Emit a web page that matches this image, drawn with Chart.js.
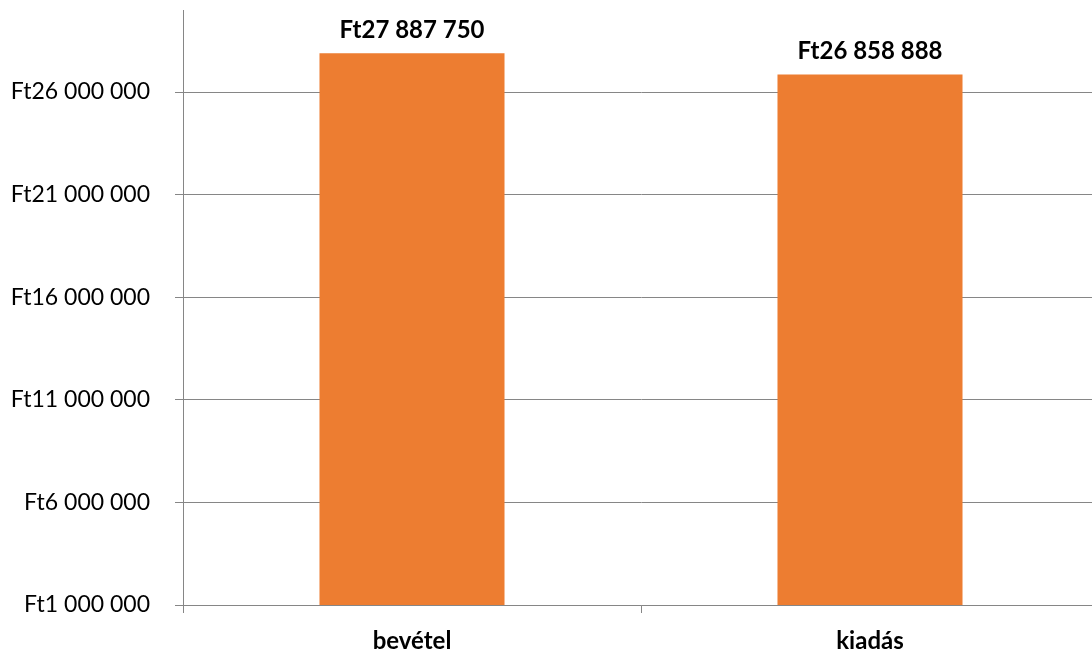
<!DOCTYPE html>
<html>
<head>
<meta charset="utf-8">
<script src="https://cdn.jsdelivr.net/npm/chart.js@4"></script>
<style>
  html, body { margin: 0; padding: 0; background: #fff; overflow: hidden; }
  /* plot area runs a few px past the right edge, as in the original */
  #wrap { width: 1099px; height: 652px; }
</style>
</head>
<body>
<div id="wrap"><canvas id="myChart"></canvas></div>
<script>
// data
const categories = ['bevétel', 'kiadás'];
const amounts = [27887750, 26858888];
const yTicks = [1000000, 6000000, 11000000, 16000000, 21000000, 26000000];
const yMin = 1000000;
const yMax = 30000000;

function ft(v) {
  return 'Ft' + String(v).replace(/\B(?=(\d{3})+(?!\d))/g, ' ');
}

// value labels above bars
const barLabels = {
  id: 'barLabels',
  afterDatasetsDraw(chart) {
    const { ctx } = chart;
    ctx.save();
    ctx.font = 'bold 24px Lato';
    ctx.fillStyle = '#000';
    ctx.textAlign = 'center';
    ctx.textBaseline = 'middle';
    chart.getDatasetMeta(0).data.forEach((bar, i) => {
      ctx.fillText(ft(chart.data.datasets[0].data[i]), bar.x, bar.y - 23);
    });
    ctx.restore();
  }
};

const config = {
  type: 'bar',
  data: {
    labels: categories,
    datasets: [{
      data: amounts,
      backgroundColor: '#ED7D31',
      borderWidth: 0,
      categoryPercentage: 1,
      barPercentage: 0.404
    }]
  },
  options: {
    responsive: true,
    maintainAspectRatio: false,
    animation: false,
    layout: { padding: { top: 10, right: 0, left: 0, bottom: 0 } },
    plugins: {
      legend: { display: false },
      tooltip: { enabled: false }
    },
    scales: {
      x: {
        grid: {
          offset: true,
          drawOnChartArea: false,
          color: '#868686',
          tickLength: 8
        },
        border: { color: '#868686' },
        ticks: {
          color: '#000',
          font: { family: 'Lato', size: 24, weight: 'bold' },
          padding: 14
        },
        afterFit(axis) {
          axis.height = 47;
          axis.paddingLeft = 0;
          axis.paddingRight = 0;
        }
      },
      y: {
        min: yMin,
        max: yMax,
        afterBuildTicks(axis) {
          axis.ticks = yTicks.map(v => ({ value: v }));
        },
        grid: { color: '#868686', tickLength: 8 },
        border: { color: '#868686' },
        ticks: {
          color: '#000',
          font: { family: 'Lato', size: 23 },
          padding: 25,
          callback: v => ft(v)
        },
        afterFit(axis) {
          axis.width = 183;
          axis.paddingTop = 0;
          axis.paddingBottom = 0;
        }
      }
    }
  },
  plugins: [barLabels]
};

const myChart = new Chart(document.getElementById('myChart'), config);
</script>
</body>
</html>
